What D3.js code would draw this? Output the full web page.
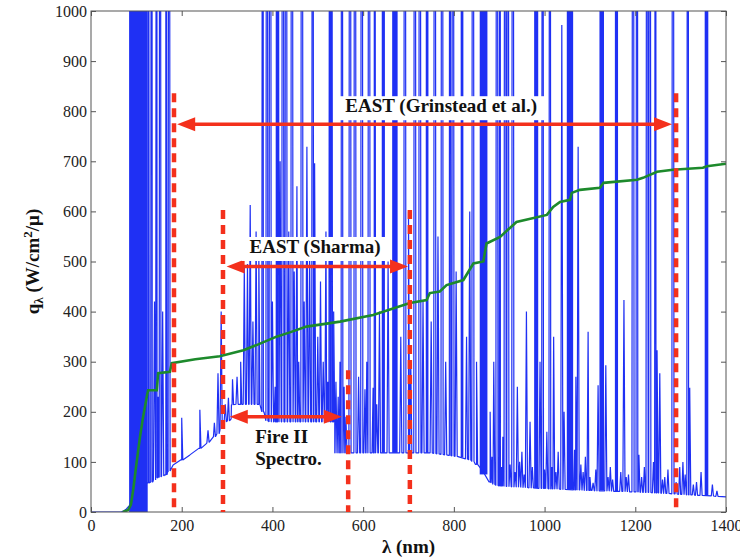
<!DOCTYPE html>
<html><head><meta charset="utf-8">
<script src="https://cdn.jsdelivr.net/npm/d3@7"></script>
<style>body{margin:0;background:#fff}svg{display:block}</style>
</head><body><svg id="c" width="740" height="558"></svg>
<script>
// ---------- data ----------
const xTicks=[0,200,400,600,800,1000,1200,1400];
const yTicks=[0,100,200,300,400,500,600,700,800,900,1000];
// blue spectrum: continuum knots [lambda nm, q]
const continuum=[[0,0],[66,0],[72,2],[78,6],[84,12],[126,58],[135,60],[150,70],[165,74],[170,80],[181,94],[200,104],[218,114],[240,127],[255,137],[270,150],[284,162],[290,170],[293,180],[305,184],[309,186],[311,214],[330,215],[370,215],[380,200],[390,181],[535,180],[538,118],[700,117],[790,113],[830,105],[850,95],[865,80],[880,60],[900,52],[1000,47],[1100,43],[1200,40],[1300,35],[1400,30]];
// emission lines [lambda, base q, peak q]
const emissionLines=[[126,58,3000],[134,60,3000],[140,64,420],[145,68,3000],[148,69,230],[152,70,3000],[158,72,400],[165,74,3000],[172,82,3000],
[200,104,188],[240,127,204],[258,139,163],[272,150,178],[280,156,277],[287,166,400],
[296,180,215],[303,182,228],
[312,214,265],[322,215,270],[330,215,300],[338,215,490],[345,215,495],[351,215,613],[357,215,380],[364,215,560],[370,215,520],
[379,200,3000],[388,182,3000],[395,180,3000],[400,180,420],[406,180,250],[409,180,3000],[412,180,3000],[417,180,700],[423,180,3000],[430,180,3000],[436,180,560],[443,180,3000],[448,180,480],[454,180,650],[458,180,300],[465,180,3000],[470,180,420],[476,180,729],[482,180,520],[489,180,3000],[493,180,696],[500,180,350],[506,180,460],[512,180,300],[518,180,560],[522,180,260],[527,180,3000],[530,180,3000],[535,180,400],
[540,118,260],[545,118,230],[549,118,300],[553,118,3000],[558,118,250],[562,118,190],
[571,118,3000],[582,118,3000],[590,118,270],[597,118,3000],[604,118,245],[608,118,300],[613,118,3000],[622,118,248],[625,118,3000],[630,118,215],[636,118,400],[655,118,500],[683,118,350],[692,118,3000],[700,118,600],[705,118,300],[714,118,3000],[725,118,3000],[732,118,420],[750,118,380],[758,117,3000],[765,116,550],[774,115,3000],[782,114,300],[791,113,3000],[798,112,3000],[805,111,480],[828,106,350],[835,104,600],[842,101,3000],[850,95,300],
[880,60,200],[884,58,110],[888,55,300],[895,53,3000],[902,52,3000],[905,52,90],[908,52,150],[913,51,3000],[919,51,3000],[924,51,95],[930,50,3000],[935,50,80],[940,50,250],[945,50,100],[950,49,120],[955,49,75],[960,49,400],[968,48,180],[973,48,90],[990,47,300],[996,47,3000],[1000,47,85],[1005,47,160],[1012,46,3000],[1016,46,90],[1020,46,350],[1025,46,80],[1030,46,120],[1038,45,972],[1043,45,200],
[1066,44,124],[1069,44,270],[1074,44,729],[1080,44,95],[1085,43,80],[1090,43,110],[1096,43,360],[1100,43,70],[1107,43,58],[1113,42,85],[1118,42,253],[1135,42,293],[1140,42,70],[1145,42,90],[1150,41,65],[1168,41,80],[1175,41,423],[1180,41,70],[1185,40,75],[1195,40,3000],[1204,40,3000],[1208,40,114],[1214,39,70],[1220,39,90],[1226,39,3000],[1232,39,3000],[1240,38,100],[1245,38,3000],[1248,38,323],[1254,38,277],[1260,37,65],[1265,37,70],[1272,37,85],[1283,36,3000],[1290,36,60],[1298,35,90],[1305,35,100],[1310,35,75],[1316,34,3000],[1320,34,248],[1328,34,55],[1335,33,60],[1345,33,80],[1370,32,55],[1380,31,42]];
// dense line clusters [lambda0, lambda1, base q, top q]
const denseBands=[[84,125,0,1000],[641,648,118,1000],[664,676,118,1000],[738,744,118,1000],[815,821,109,1000],[857,874,75,1000],[977,986,48,1000],[1049,1063,45,1000],[1121,1131,43,1000],[1155,1162,41,1000],[1353,1361,33,1000]];
// green cumulative curve [lambda, q]
const cumulative=[[70,0],[82,4],[88,15],[93,44],[100,95],[108,150],[114,185],[119,210],[124,235],[126,243],[145,243],[148,277],[174,280],[178,297],[230,305],[284,311],[336,323],[370,335],[409,350],[440,359],[475,370],[527,377],[549,380],[622,393],[703,417],[740,423],[747,437],[769,440],[784,453],[821,463],[843,496],[865,500],[872,536],[902,549],[938,579],[1005,593],[1019,609],[1034,619],[1056,623],[1060,637],[1078,643],[1122,647],[1130,657],[1204,663],[1217,667],[1248,679],[1283,683],[1349,687],[1358,690],[1400,695]];
// annotations
const rangeLabels=["EAST (Grinstead et al.)","EAST (Sharma)"];
const rangeArrowFrom=[190,299,306];
const rangeArrowTo=[1281,699,553];
const rangeArrowQ=[774,490,190];
const labelLambda=[772,494];
const labelQ=[798,517];
const dashedLambda=[183,1290,291,703,567];
const dashedTopQ=[836,836,603,603,283];
const fireLabel=["Fire II","Spectro."];
const fireLabelLambda=362, fireLabelQ=138;

// ---------- chart ----------
const svg=d3.select('#c');
const x=d3.scaleLinear().domain([0,1400]).range([91,726]);
const y=d3.scaleLinear().domain([0,1000]).range([512,11]);
const font="'Liberation Serif','Times New Roman',serif";
const BLUE='#1f30f4', GREEN='#1d8a2c', RED='#f4301c', AX='#555';

svg.append('defs').append('clipPath').attr('id','clip').append('rect')
  .attr('x',x(0)).attr('y',y(1000)).attr('width',x(1400)-x(0)).attr('height',y(0)-y(1000));
const plot=svg.append('g').attr('clip-path','url(#clip)');

// blue spectrum
const h=2.4;
const pts=continuum.map(d=>[d[0],d[1]]);
emissionLines.forEach(([l,b,p])=>{pts.push([l-h,b],[l,p],[l+h,b]);});
pts.sort((a,b)=>a[0]-b[0]);
plot.selectAll('rect.band').data(denseBands).join('rect').attr('class','band')
  .attr('x',d=>x(d[0])).attr('width',d=>x(d[1])-x(d[0]))
  .attr('y',d=>y(d[3])).attr('height',d=>y(d[2])-y(d[3])).attr('fill',BLUE);
plot.append('path').datum(pts).attr('fill','none').attr('stroke',BLUE).attr('stroke-width',1.2)
  .attr('stroke-linejoin','bevel')
  .attr('d',d3.line().x(d=>x(d[0])).y(d=>y(d[1])));

// green
plot.append('path').datum(cumulative).attr('fill','none').attr('stroke',GREEN).attr('stroke-width',2.6)
  .attr('d',d3.line().x(d=>x(d[0])).y(d=>y(d[1])));

// axes
const fmt=d3.format('d');
const gx=svg.append('g').attr('transform',`translate(0,${y(0)})`)
  .call(d3.axisBottom(x).tickValues(xTicks).tickFormat(fmt).tickSize(-5).tickPadding(8));
const gy=svg.append('g').attr('transform',`translate(${x(0)},0)`)
  .call(d3.axisLeft(y).tickValues(yTicks).tickFormat(fmt).tickSize(-5).tickPadding(4));
const gt=svg.append('g').attr('transform',`translate(0,${y(1000)})`)
  .call(d3.axisTop(x).tickValues(xTicks).tickSize(-5).tickFormat(''));
const gr=svg.append('g').attr('transform',`translate(${x(1400)},0)`)
  .call(d3.axisRight(y).tickValues(yTicks).tickSize(-5).tickFormat(''));
[gx,gy,gt,gr].forEach(g=>{g.attr('font-family',null).attr('font-size',null);
  g.select('.domain').remove();g.selectAll('line').attr('stroke',AX);
  g.selectAll('text').style('font-family',font).style('font-size','16px').attr('fill','#222');});
svg.append('rect').attr('x',x(0)).attr('y',y(1000)).attr('width',x(1400)-x(0)).attr('height',y(0)-y(1000))
  .attr('fill','none').attr('stroke',AX).attr('stroke-width',1);

// red dashed lines
svg.selectAll('line.dash').data(dashedLambda).join('line').attr('class','dash')
  .attr('x1',d=>x(d)).attr('x2',d=>x(d)).attr('y1',(d,i)=>y(dashedTopQ[i])).attr('y2',y(0))
  .attr('stroke',RED).attr('stroke-width',4.5).attr('stroke-dasharray','9,6');

// arrows
rangeArrowFrom.forEach((a,i)=>{
  const x1=x(a), x2=x(rangeArrowTo[i]), yy=y(rangeArrowQ[i]), L=18, W2=7;
  svg.append('line').attr('x1',x1+L-2).attr('x2',x2-L+2).attr('y1',yy).attr('y2',yy)
    .attr('stroke',RED).attr('stroke-width',3.5);
  svg.append('path').attr('fill',RED)
    .attr('d',`M${x1},${yy}L${x1+L},${yy-W2}L${x1+L},${yy+W2}Z M${x2},${yy}L${x2-L},${yy-W2}L${x2-L},${yy+W2}Z`);
});

function bold(sel){return sel.style('font-family',font).style('font-weight','bold').style('font-size','19px').attr('fill','#111');}
// labels with white boxes
rangeLabels.forEach((t,i)=>{
  const g=svg.append('g');
  const r=g.append('rect').attr('fill','#fff');
  const tx=bold(g.append('text').attr('x',x(labelLambda[i])).attr('y',y(labelQ[i])).attr('text-anchor','middle')).text(t);
  const bb=tx.node().getBBox();
  r.attr('x',bb.x-8).attr('y',bb.y+1).attr('width',bb.width+16).attr('height',bb.height+2);
});
const ft=bold(svg.append('text').attr('x',x(fireLabelLambda)).attr('y',y(fireLabelQ)));
ft.selectAll('tspan').data(fireLabel).join('tspan').attr('x',x(fireLabelLambda)).attr('dy',(d,i)=>i?22:0).text(d=>d);

// axis titles
bold(svg.append('text').attr('x',(x(0)+x(1400))/2).attr('y',553).attr('text-anchor','middle')).text('λ (nm)');
const yl=bold(svg.append('text').attr('transform',`translate(39,${(y(0)+y(1000))/2}) rotate(-90)`).attr('text-anchor','middle'));
yl.append('tspan').text('q');
yl.append('tspan').style('font-size','13px').attr('dy',4).text('λ');
yl.append('tspan').attr('dy',-4).text(' (W/cm');
yl.append('tspan').style('font-size','13px').attr('dy',-7).text('2');
yl.append('tspan').attr('dy',7).text('/μ)');
</script></body></html>
